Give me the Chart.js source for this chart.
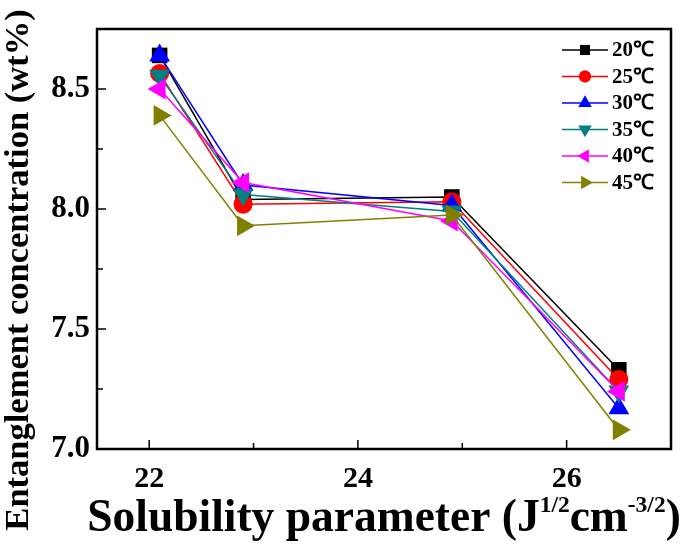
<!DOCTYPE html>
<html>
<head>
<meta charset="utf-8">
<script src="https://cdn.jsdelivr.net/npm/chart.js@4/dist/chart.umd.min.js"></script>
<style>
  html, body { margin: 0; padding: 0; background: #fff; }
  #wrap { width: 685px; height: 547px; }
</style>
</head>
<body>
<div id="wrap"><canvas id="chart" width="685" height="547"></canvas></div>
<script>
// Entanglement concentration vs solubility parameter, one series per temperature.
const X_VALUES = [22.1, 22.9, 24.9, 26.5];
const LABELS = ["20℃", "25℃", "30℃", "35℃", "40℃", "45℃"];
const T20 = [8.64, 8.04, 8.05, 7.33];
const T25 = [8.565, 8.02, 8.03, 7.29];
const T30 = [8.64, 8.10, 8.015, 7.17];
const T35 = [8.555, 8.06, 7.99, 7.24];
const T40 = [8.50, 8.11, 7.95, 7.24];
const T45 = [8.39, 7.93, 7.975, 7.08];
const X_TICKS = [22, 23, 24, 25, 26];
const X_LABELED = [22, 24, 26];
const Y_TICKS = [7.0, 7.25, 7.5, 7.75, 8.0, 8.25, 8.5, 8.75];
const Y_LABELED = [7.0, 7.5, 8.0, 8.5];

const FONT = '"Liberation Serif", "Times New Roman", serif';
const COLORS = ["#000000", "#ff0000", "#0000ff", "#008080", "#ff00ff", "#808000"];
const STYLES = [
  { style: "rect", rot: 0, r: 11 },
  { style: "circle", rot: 0, r: 9.5 },
  { style: "triangle", rot: 0, r: 12 },
  { style: "triangle", rot: 180, r: 12 },
  { style: "triangle", rot: -90, r: 12 },
  { style: "triangle", rot: 90, r: 12 },
];
const SERIES = [T20, T25, T30, T35, T40, T45];

const datasets = SERIES.map((vals, i) => ({
  label: LABELS[i],
  data: X_VALUES.map((x, j) => ({ x, y: vals[j] })),
  borderColor: COLORS[i],
  backgroundColor: COLORS[i],
  borderWidth: 1.5,
  pointStyle: STYLES[i].style,
  pointRotation: STYLES[i].rot,
  pointRadius: STYLES[i].r,
  pointHoverRadius: STYLES[i].r,
  pointBorderWidth: 0,
  tension: 0,
  order: SERIES.length - i, // later series drawn on top
}));

function drawMarker(ctx, style, rot, r, x, y, color) {
  ctx.save();
  ctx.fillStyle = color;
  ctx.translate(x, y);
  ctx.rotate((rot * Math.PI) / 180);
  ctx.beginPath();
  if (style === "rect") {
    const s = r * Math.SQRT1_2;
    ctx.rect(-s, -s, 2 * s, 2 * s);
  } else if (style === "circle") {
    ctx.arc(0, 0, r, 0, Math.PI * 2);
  } else {
    for (let k = 0; k < 3; k++) {
      const a = (k * 2 * Math.PI) / 3;
      ctx.lineTo(Math.sin(a) * r, -Math.cos(a) * r);
    }
    ctx.closePath();
  }
  ctx.fill();
  ctx.restore();
}

const frame = {
  id: "frame",
  afterDraw(chart) {
    const { ctx, chartArea: a, scales } = chart;
    ctx.save();
    ctx.strokeStyle = "#000";
    ctx.lineWidth = 1.5;
    scales.x.ticks.forEach((t) => {
      const px = scales.x.getPixelForValue(t.value);
      const len = X_LABELED.includes(t.value) ? 9 : 6;
      ctx.beginPath();
      ctx.moveTo(px, a.bottom);
      ctx.lineTo(px, a.bottom - len);
      ctx.stroke();
    });
    scales.y.ticks.forEach((t) => {
      const py = scales.y.getPixelForValue(t.value);
      const len = Y_LABELED.some((v) => Math.abs(v - t.value) < 1e-6) ? 9 : 6;
      ctx.beginPath();
      ctx.moveTo(a.left, py);
      ctx.lineTo(a.left + len, py);
      ctx.stroke();
    });
    ctx.lineWidth = 2.5;
    ctx.strokeRect(a.left, a.top, a.right - a.left, a.bottom - a.top);

    // legend inside the plot, top right
    ctx.textBaseline = "middle";
    ctx.textAlign = "left";
    ctx.font = "bold 21px " + FONT;
    chart.data.datasets.forEach((ds, i) => {
      const y = 50 + i * 26.5;
      ctx.strokeStyle = ds.borderColor;
      ctx.lineWidth = 1.5;
      ctx.beginPath();
      ctx.moveTo(562, y);
      ctx.lineTo(608, y);
      ctx.stroke();
      drawMarker(ctx, STYLES[i].style, STYLES[i].rot, STYLES[i].r * 0.65, 585, y, ds.borderColor);
      ctx.fillStyle = "#000";
      ctx.fillText(ds.label, 612, y + 1);
    });

    // axis titles
    ctx.fillStyle = "#000";
    ctx.save();
    ctx.translate(28, 270);
    ctx.rotate(-Math.PI / 2);
    ctx.textAlign = "center";
    ctx.textBaseline = "alphabetic";
    ctx.font = "bold 34.5px " + FONT;
    ctx.fillText("Entanglement concentration (wt%)", 0, 0);
    ctx.restore();

    const parts = [
      ["Solubility parameter (J", false],
      ["1/2", true],
      ["cm", false],
      ["-3/2", true],
      [")", false],
    ];
    const big = "bold 45.5px " + FONT;
    const small = "bold 23.5px " + FONT;
    let total = 0;
    parts.forEach(([s, sup]) => {
      ctx.font = sup ? small : big;
      total += ctx.measureText(s).width;
    });
    let x = 384 - total / 2;
    ctx.textAlign = "left";
    ctx.textBaseline = "alphabetic";
    parts.forEach(([s, sup]) => {
      ctx.font = sup ? small : big;
      ctx.fillText(s, x, sup ? 512 : 531);
      x += ctx.measureText(s).width;
    });
    ctx.restore();
  },
};

new Chart(document.getElementById("chart"), {
  type: "line",
  data: { datasets },
  options: {
    responsive: false,
    animation: false,
    layout: { padding: { top: 29, right: 14, left: 0, bottom: 0 } },
    plugins: { legend: { display: false }, tooltip: { enabled: false } },
    scales: {
      x: {
        type: "linear",
        min: 21.5,
        max: 27,
        afterBuildTicks: (s) => { s.ticks = X_TICKS.map((v) => ({ value: v })); },
        afterFit: (s) => { s.height = 98; },
        grid: { display: false, drawTicks: false },
        border: { display: false },
        ticks: {
          color: "#000",
          font: { family: FONT, size: 30, weight: "bold" },
          padding: 12,
          maxRotation: 0,
          autoSkip: false,
          callback: (v) => (X_LABELED.includes(v) ? String(v) : ""),
        },
      },
      y: {
        min: 7,
        max: 8.75,
        afterBuildTicks: (s) => { s.ticks = Y_TICKS.map((v) => ({ value: v })); },
        afterFit: (s) => { s.width = 97; },
        grid: { display: false, drawTicks: false },
        border: { display: false },
        ticks: {
          color: "#000",
          font: { family: FONT, size: 31, weight: "bold" },
          padding: 7,
          autoSkip: false,
          callback: (v) => (Y_LABELED.some((l) => Math.abs(l - v) < 1e-6) ? v.toFixed(1) : ""),
        },
      },
    },
  },
  plugins: [frame],
});
</script>
</body>
</html>
